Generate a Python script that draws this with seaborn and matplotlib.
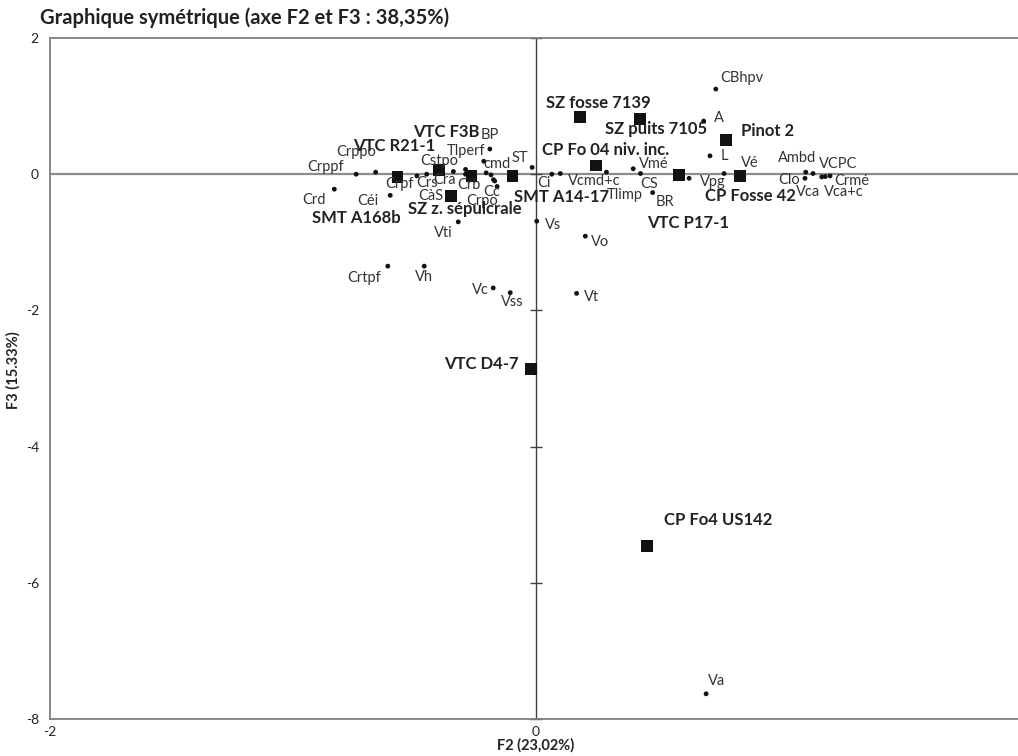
import numpy as np
import pandas as pd
import matplotlib
matplotlib.use("Agg")
import matplotlib.pyplot as plt
import seaborn as sns

# ---- data: variables (dots) ----
var_names = ["Crppf", "Crppo", "Crd", "Céi", "Crpf", "Crs", "Cstpo", "Cra", "CàS",
             "BP", "Tlperf", "cmd", "Crb", "", "Cc", "Crpo", "ST", "Vti", "Vs", "Ci",
             "Vcmd+c", "Tlimp", "Vmé", "CS", "BR", "Vpg", "Vé", "A", "L", "CBhpv",
             "Ambd", "VCPC", "Clo", "Vca", "Vca+c", "Crmé", "Vo", "Vt", "Vc", "Vss",
             "Vh", "Crtpf", "Va"]
var_f2 = [-0.74, -0.66, -0.83, -0.60, -0.49, -0.45, -0.34, -0.29, -0.29,
          -0.19, -0.215, -0.205, -0.185, -0.17, -0.175, -0.16, -0.016, -0.32, 0.003, 0.065,
          0.10, 0.29, 0.40, 0.43, 0.48, 0.63, 0.774, 0.69, 0.716, 0.74,
          1.11, 1.14, 1.107, 1.176, 1.19, 1.21, 0.203, 0.167, -0.176, -0.106,
          -0.46, -0.61, 0.70]
var_f3 = [0.00, 0.03, -0.22, -0.31, -0.025, 0.00, 0.04, 0.07, 0.00,
          0.37, 0.19, 0.02, -0.01, -0.10, -0.08, -0.18, 0.10, -0.70, -0.69, 0.00,
          0.01, 0.03, 0.08, 0.01, -0.27, -0.06, 0.01, 0.78, 0.27, 1.25,
          0.03, 0.01, -0.06, -0.04, -0.035, -0.025, -0.91, -1.75, -1.67, -1.74,
          -1.35, -1.35, -7.63]

# ---- data: samples (squares) ----
obs_names = ["SMT A168b", "VTC R21-1", "VTC F3B", "SZ z. sépulcrale", "SMT A14-17",
             "CP Fo 04 niv. inc.", "SZ fosse 7139", "SZ puits 7105", "Pinot 2",
             "VTC P17-1", "CP Fosse 42", "VTC D4-7", "CP Fo4 US142"]
obs_f2 = [-0.57, -0.40, -0.265, -0.35, -0.096, 0.247, 0.181, 0.428, 0.782,
          0.588, 0.84, -0.02, 0.456]
obs_f3 = [-0.04, 0.06, -0.025, -0.32, -0.025, 0.13, 0.84, 0.81, 0.50,
          -0.015, -0.03, -2.86, -5.46]

x_ticks = [-2, 0]
y_ticks = [2, 0, -2, -4, -6, -8]

title = "Graphique symétrique (axe F2 et F3 : 38,35%)"
x_label = "F2 (23,02%)"
y_label = "F3 (15.33%)"

# ---- layout: label offsets in pixels (dx, dy up) ----
var_off = {
    "Crppf": (-31, 7), "Crppo": (-19, 20), "Crd": (-20, -11), "Céi": (-22, -6),
    "Crpf": (-17, -8), "Crs": (0, -9), "Cstpo": (-14, 10), "Cra": (-21, -11),
    "CàS": (-35, -22), "BP": (0, 14), "Tlperf": (-18, 10), "cmd": (11, 9),
    "Crb": (-22, -10), "Cc": (-2, -12), "Crpo": (-15, -15), "ST": (-12, 9),
    "Vti": (-15, -11), "Vs": (16, -4), "Ci": (-8, -9), "Vcmd+c": (34, -7),
    "Tlimp": (18, -23), "Vmé": (21, 5), "CS": (9, -10), "BR": (12, -9),
    "Vpg": (24, -4), "Vé": (26, 11), "A": (15, 3), "L": (14, 0), "CBhpv": (26, 11),
    "Ambd": (-9, 14), "VCPC": (25, 10), "Clo": (-16, -2), "Vca": (-14, -15),
    "Vca+c": (19, -15), "Crmé": (22, -5), "Vo": (15, -6), "Vt": (15, -4),
    "Vc": (-13, -2), "Vss": (2, -9), "Vh": (0, -11), "Crtpf": (-24, -12),
    "Va": (10, 13), "": (0, 0),
}
obs_off = {
    "SMT A168b": (-41, -41), "VTC R21-1": (-45, 24), "VTC F3B": (-25, 44),
    "SZ z. sépulcrale": (14, -13), "SMT A14-17": (49, -21),
    "CP Fo 04 niv. inc.": (10, 15), "SZ fosse 7139": (18, 14),
    "SZ puits 7105": (16, -10), "Pinot 2": (42, 9), "VTC P17-1": (9, -48),
    "CP Fosse 42": (10, -20), "VTC D4-7": (-50, 5), "CP Fo4 US142": (71, 26),
}

sns.set_theme(style="white")
plt.rcParams['font.family'] = ['Lato', 'DejaVu Sans']

W, H = 1018, 756
fig = plt.figure(figsize=(W / 100, H / 100), dpi=100)
ax = fig.add_axes([50 / W, (H - 719) / H, 972 / W, 681 / H])

df_var = pd.DataFrame({"F2": var_f2, "F3": var_f3, "name": var_names})
df_obs = pd.DataFrame({"F2": obs_f2, "F3": obs_f3, "name": obs_names})

ax.axhline(0, color="#8c8c8c", lw=1.6, zorder=1)
ax.axvline(0, color="#404040", lw=1.0, zorder=1)
ax.plot([0] * len(y_ticks), y_ticks, ls="none", marker="_", ms=8, mew=1.0,
        color="#404040", zorder=1, clip_on=False)

sns.scatterplot(data=df_var, x="F2", y="F3", ax=ax, color="#111111", s=12,
                marker="o", edgecolor="none", zorder=3, legend=False)
sns.scatterplot(data=df_obs, x="F2", y="F3", ax=ax, color="#111111", s=70,
                marker="s", edgecolor="none", zorder=3, legend=False)

for _, r in df_var.iterrows():
    if not r["name"]:
        continue
    dx, dy = var_off[r["name"]]
    ax.annotate(r["name"], (r["F2"], r["F3"]), xytext=(dx, dy),
                textcoords="offset pixels", ha="center", va="center",
                fontsize=10.5, color="#333333", zorder=4)
for _, r in df_obs.iterrows():
    dx, dy = obs_off[r["name"]]
    ax.annotate(r["name"], (r["F2"], r["F3"]), xytext=(dx, dy),
                textcoords="offset pixels", ha="center", va="center",
                fontsize=12, fontweight="bold", color="#222222", zorder=4)

ax.set_xlim(-2, 2)
ax.set_ylim(-8, 2)
ax.set_xticks(x_ticks)
ax.set_yticks(y_ticks)
ax.set_xticklabels([str(t) for t in x_ticks])
ax.set_yticklabels([str(t) for t in y_ticks])
ax.tick_params(axis="both", length=0, labelsize=10, colors="#222222")
ax.tick_params(axis="x", pad=5)
ax.tick_params(axis="y", pad=8)
ax.set_xlabel(x_label, fontsize=10.5, fontweight="bold", labelpad=0, color="#222222")
ax.set_ylabel("")
fig.text(13 / W, 1 - 370 / H, y_label, rotation=90, fontsize=10.5,
         fontweight="bold", color="#222222", ha="center", va="center")

for side in ["left", "bottom", "top"]:
    ax.spines[side].set_visible(True)
    ax.spines[side].set_color("#7f7f7f")
    ax.spines[side].set_linewidth(1.3)
ax.spines["right"].set_visible(False)
ax.grid(False)

fig.text(40 / W, 1 - 18 / H, title, fontsize=14.5, fontweight="bold",
         color="#222222", ha="left", va="center")

fig.savefig("out.png", dpi=100)
